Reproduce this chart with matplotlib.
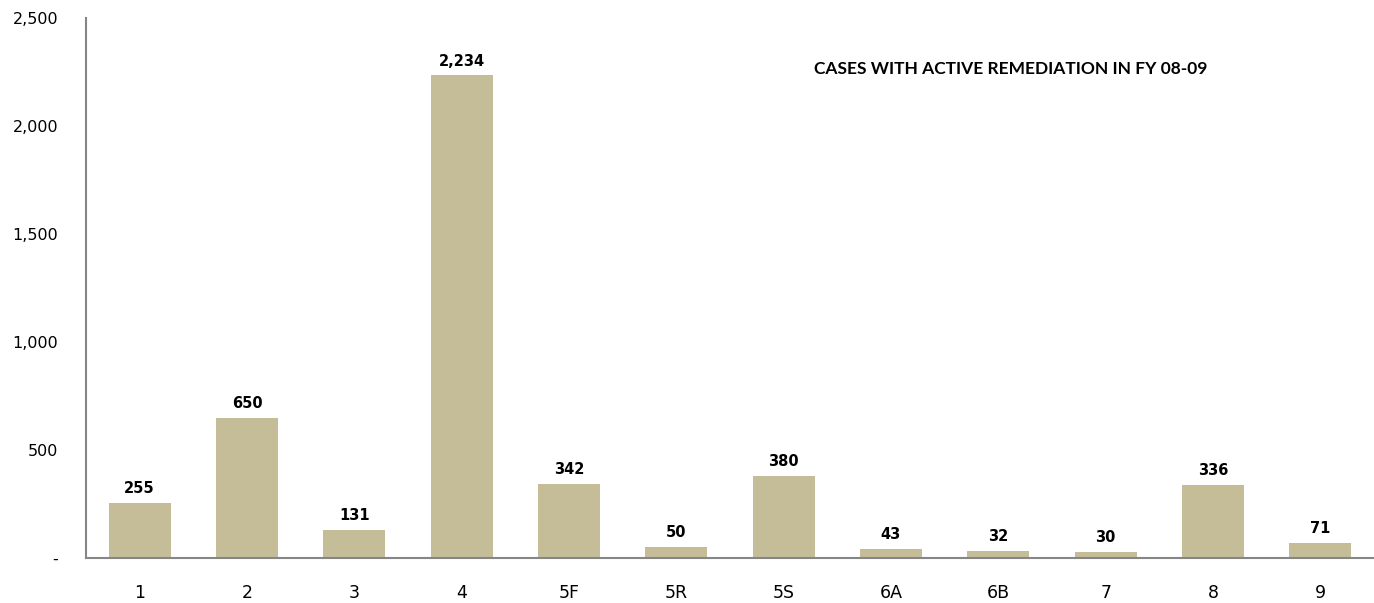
import matplotlib
matplotlib.use("Agg")
import matplotlib.pyplot as plt
from matplotlib.ticker import FuncFormatter

categories = ["1", "2", "3", "4", "5F", "5R", "5S", "6A", "6B", "7", "8", "9"]
values = [255, 650, 131, 2234, 342, 50, 380, 43, 32, 30, 336, 71]
yticks = [0, 500, 1000, 1500, 2000, 2500]
title = "CASES WITH ACTIVE REMEDIATION IN FY 08-09"

fig = plt.figure(figsize=(13.74, 6.03), dpi=100)
ax = fig.add_axes([86/1374, 45/603, 1 - 86/1374, (558-18)/603])

x = range(len(categories))
bars = ax.bar(x, values, width=0.58, color="#C4BD97", edgecolor="none")
ax.set_xlim(-0.5, len(categories) - 0.5)
ax.set_ylim(0, 2500)
ax.set_yticks(yticks)
ax.yaxis.set_major_formatter(FuncFormatter(lambda v, p: "-" if v == 0 else f"{int(v):,}"))
ax.set_xticks(list(x))
ax.set_xticklabels(categories, fontsize=12.5, fontfamily="DejaVu Sans")
ax.tick_params(axis="y", length=0, pad=20, labelsize=11.5)
ax.tick_params(axis="x", length=0, pad=19)

for s in ["top", "right"]:
    ax.spines[s].set_visible(False)
for s in ["left", "bottom"]:
    ax.spines[s].set_color("#868686")
    ax.spines[s].set_linewidth(1.5)

for xi, v in zip(x, values):
    ax.annotate(f"{v:,}", (xi, v), xytext=(0, 5), textcoords="offset points",
                ha="center", va="bottom", fontsize=10.5, fontweight="bold")

ax.text(0.718, 0.905, title, transform=ax.transAxes, ha="center", va="center",
        fontsize=12.5, fontweight="bold", fontfamily="Lato")

fig.savefig("out.png", dpi=100)
